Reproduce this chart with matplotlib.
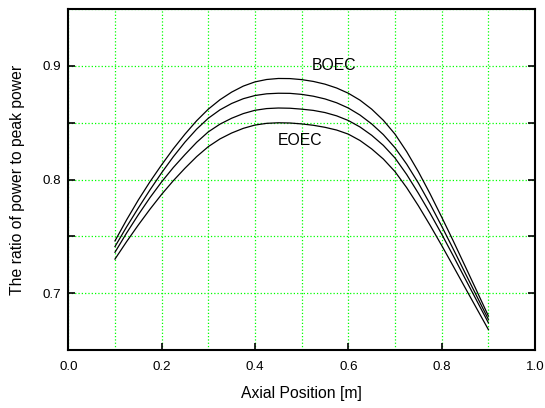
import numpy as np
import matplotlib
matplotlib.use('Agg')
import matplotlib.pyplot as plt
from matplotlib.ticker import MultipleLocator, FuncFormatter

plt.rcParams['font.family'] = ['Liberation Sans', 'DejaVu Sans']

# axial position [m]
pos = [0.100, 0.125, 0.150, 0.175, 0.200, 0.225, 0.250, 0.275, 0.300,
       0.325, 0.350, 0.375, 0.400, 0.425, 0.450, 0.475, 0.500, 0.525,
       0.550, 0.575, 0.600, 0.625, 0.650, 0.675, 0.700, 0.725, 0.750,
       0.775, 0.800, 0.825, 0.850, 0.875, 0.900]

# ratio of power to peak power, from BOEC (top) down to EOEC (bottom)
boec = [0.7460, 0.7646, 0.7820, 0.7981, 0.8130, 0.8271, 0.8400, 0.8518, 0.8620,
        0.8703, 0.8770, 0.8823, 0.8860, 0.8881, 0.8890, 0.8889, 0.8880, 0.8864,
        0.8840, 0.8806, 0.8760, 0.8699, 0.8620, 0.8522, 0.8400, 0.8246, 0.8070,
        0.7876, 0.7670, 0.7458, 0.7240, 0.7021, 0.6800]
mid1 = [0.7410, 0.7584, 0.7750, 0.7909, 0.8060, 0.8201, 0.8330, 0.8444, 0.8540,
        0.8614, 0.8670, 0.8712, 0.8740, 0.8755, 0.8760, 0.8759, 0.8750, 0.8734,
        0.8710, 0.8676, 0.8630, 0.8568, 0.8490, 0.8396, 0.8280, 0.8136, 0.7970,
        0.7786, 0.7590, 0.7387, 0.7180, 0.6975, 0.6770]
mid2 = [0.7360, 0.7530, 0.7690, 0.7841, 0.7980, 0.8106, 0.8220, 0.8328, 0.8420,
        0.8488, 0.8540, 0.8581, 0.8610, 0.8625, 0.8630, 0.8628, 0.8620, 0.8609,
        0.8590, 0.8561, 0.8520, 0.8463, 0.8390, 0.8301, 0.8190, 0.8045, 0.7880,
        0.7705, 0.7520, 0.7327, 0.7130, 0.6935, 0.6740]
eoec = [0.7300, 0.7454, 0.7600, 0.7739, 0.7870, 0.7990, 0.8100, 0.8202, 0.8290,
        0.8358, 0.8410, 0.8451, 0.8480, 0.8495, 0.8500, 0.8498, 0.8490, 0.8478,
        0.8460, 0.8436, 0.8400, 0.8344, 0.8270, 0.8181, 0.8070, 0.7929, 0.7770,
        0.7599, 0.7420, 0.7236, 0.7050, 0.6865, 0.6680]

fig = plt.figure(figsize=(5.45, 4.08), dpi=100)
ax = fig.add_axes([0.1253, 0.1422, 0.8564, 0.8353])

for curve in [boec, mid1, mid2, eoec]:
    ax.plot(pos, curve, color='black', lw=0.9, zorder=3)

ax.text(0.57, 0.90, 'BOEC', ha='center', va='center', fontsize=11.3)
ax.text(0.496, 0.834, 'EOEC', ha='center', va='center', fontsize=11.3)

ax.set_xlim(0.0, 1.0)
ax.set_ylim(0.65, 0.95)

ax.xaxis.set_major_locator(MultipleLocator(0.2))
ax.xaxis.set_minor_locator(MultipleLocator(0.1))
ax.yaxis.set_major_locator(MultipleLocator(0.1))
ax.yaxis.set_minor_locator(MultipleLocator(0.05))
ax.xaxis.set_major_formatter(FuncFormatter(lambda v, p: f'{v:.1f}'))
ax.yaxis.set_major_formatter(FuncFormatter(lambda v, p: f'{v:.1f}'))

ax.grid(which='both', color='#00ff00', linestyle=':', linewidth=0.9, zorder=1)
ax.set_axisbelow(True)

ax.tick_params(axis='x', which='major', direction='in', length=5, width=1.2,
               labelsize=9.6, pad=8, top=False)
ax.tick_params(axis='x', which='minor', length=0)
ax.tick_params(axis='y', which='both', direction='in', length=5, width=1.2,
               labelsize=9.6, pad=5, right=True)

for sp in ax.spines.values():
    sp.set_linewidth(1.5)

ax.set_xlabel('Axial Position [m]', fontsize=11.3)
ax.set_ylabel('The ratio of power to peak power', fontsize=11.3)
ax.xaxis.set_label_coords(0.5, -0.106)
ax.yaxis.set_label_coords(-0.093, 0.5)

fig.savefig('out.png', dpi=100)
